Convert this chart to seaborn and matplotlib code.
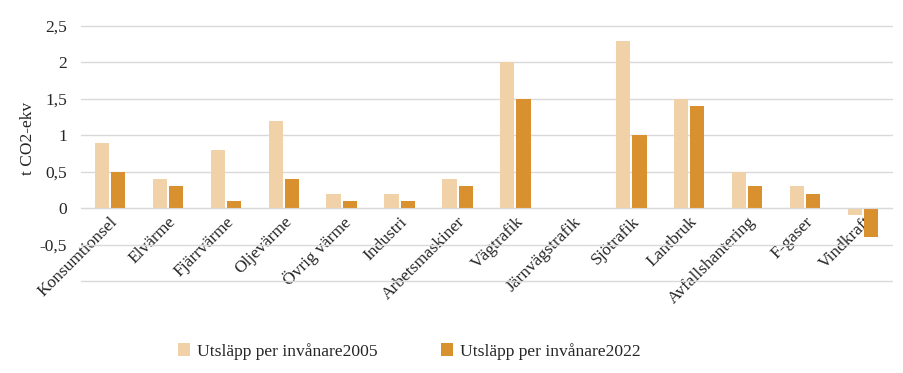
import pandas as pd
import numpy as np
import matplotlib.pyplot as plt
import seaborn as sns

# categories and values
kategorier = ["Konsumtionsel", "Elvärme", "Fjärrvärme", "Oljevärme", "Övrig värme",
              "Industri", "Arbetsmaskiner", "Vägtrafik", "Järnvägstrafik", "Sjötrafik",
              "Lantbruk", "Avfallshantering", "F-gaser", "Vindkraft"]
utslapp_2005 = [0.9, 0.4, 0.8, 1.2, 0.2, 0.2, 0.4, 2.0, 0.0, 2.3, 1.5, 0.5, 0.3, -0.1]
utslapp_2022 = [0.5, 0.3, 0.1, 0.4, 0.1, 0.1, 0.3, 1.5, 0.0, 1.0, 1.4, 0.3, 0.2, -0.4]
serier = ["Utsläpp per invånare2005", "Utsläpp per invånare2022"]
y_ticks = [-1, -0.5, 0, 0.5, 1, 1.5, 2, 2.5]
y_labels = ["", "-0,5", "0", "0,5", "1", "1,5", "2", "2,5"]

df = pd.DataFrame({
    "Kategori": kategorier * 2,
    "Serie": [serier[0]] * len(kategorier) + [serier[1]] * len(kategorier),
    "Varde": utslapp_2005 + utslapp_2022,
})

sns.set_style("white")
plt.rcParams["font.family"] = ["Liberation Serif", "DejaVu Serif"]

fig = plt.figure(figsize=(9.04, 3.73), dpi=100)
ax = fig.add_axes([81 / 904, 1 - 281 / 373, (892 - 81) / 904, (281 - 26) / 373])

sns.barplot(data=df, x="Kategori", y="Varde", hue="Serie",
            palette=["#F1D2A8", "#D9912F"], width=0.56, gap=0.12,
            saturation=1, linewidth=0, ax=ax)

ax.set_ylim(-1, 2.5)
ax.set_yticks(y_ticks)
ax.set_yticklabels(y_labels)
ax.yaxis.grid(True, color="#D9D9D9", linewidth=1)
for gl in ax.get_ygridlines():
    gl.set_clip_on(False)
ax.set_axisbelow(True)
for s in ["top", "right", "left"]:
    ax.spines[s].set_visible(False)
ax.spines["bottom"].set_position(("data", 0))
ax.spines["bottom"].set_color("#D9D9D9")
ax.tick_params(axis="both", length=0, labelsize=12.5, colors="#262626")
ax.tick_params(axis="y", pad=10)
ax.tick_params(axis="x", pad=4)
plt.setp(ax.get_xticklabels(), rotation=45, ha="right", rotation_mode="anchor")
ax.set_xlabel("")
ax.set_ylabel("t CO2-ekv", fontsize=12.5, color="#262626", labelpad=3)
ax.yaxis.label.set_y(0.56)

ax.legend(loc="upper left", bbox_to_anchor=(0.10, -0.18), ncol=2, frameon=False,
          fontsize=12.6, handlelength=0.7, handleheight=0.7, handletextpad=0.4,
          columnspacing=3.6)

fig.savefig("out.png", dpi=100)
